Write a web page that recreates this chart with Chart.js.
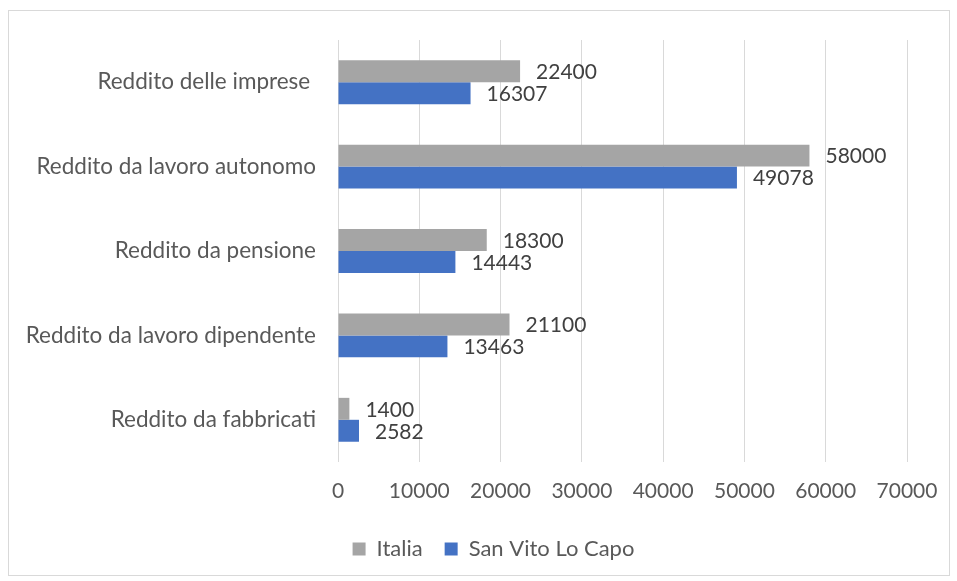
<!DOCTYPE html>
<html>
<head>
<meta charset="utf-8">
<script src="https://cdn.jsdelivr.net/npm/chart.js@4"></script>
<style>
    html, body { margin: 0; padding: 0; background: #ffffff; }
    #wrap { position: relative; width: 957px; height: 581px; }
</style>
</head>
<body>
<div id="wrap"><canvas id="redditoChart" width="957" height="581"></canvas></div>
<script>
const categories = [
    'Reddito delle imprese ',
    'Reddito da lavoro autonomo',
    'Reddito da pensione',
    'Reddito da lavoro dipendente',
    'Reddito da fabbricati'
];
const italia = [22400, 58000, 18300, 21100, 1400];
const sanVito = [16307, 49078, 14443, 13463, 2582];
const xTicks = [0, 10000, 20000, 30000, 40000, 50000, 60000, 70000];

const fontFamily = "Lato, 'Noto Sans', sans-serif";

// value labels drawn just past the end of each bar
const valueLabels = {
    id: 'valueLabels',
    afterDatasetsDraw(chart) {
        const ctx = chart.ctx;
        ctx.save();
        ctx.font = '21px ' + fontFamily;
        ctx.fillStyle = '#404040';
        ctx.textAlign = 'left';
        ctx.textBaseline = 'middle';
        chart.data.datasets.forEach((ds, i) => {
            chart.getDatasetMeta(i).data.forEach((bar, j) => {
                ctx.fillText(String(ds.data[j]), bar.x + 16, bar.y + 1);
            });
        });
        ctx.restore();
    }
};

// thin frame around the whole chart
const frame = {
    id: 'frame',
    beforeDraw(chart) {
        const ctx = chart.ctx;
        ctx.save();
        ctx.strokeStyle = '#d9d9d9';
        ctx.lineWidth = 1;
        ctx.strokeRect(8.5, 10.5, 941, 565);
        ctx.restore();
    }
};

// centre the legend under the framed area instead of the padded canvas
const legendShift = {
    id: 'legendShift',
    afterLayout(chart) {
        if (chart.legend) {
            chart.legend.left += 40;
            chart.legend.right += 40;
            chart.legend.top -= 2;
            chart.legend.bottom -= 2;
        }
    }
};

new Chart(document.getElementById('redditoChart'), {
    type: 'bar',
    data: {
        labels: categories,
        datasets: [
            {
                label: 'Italia',
                data: italia,
                backgroundColor: '#a5a5a5',
                categoryPercentage: 0.52,
                barPercentage: 1.0
            },
            {
                label: 'San Vito Lo Capo',
                data: sanVito,
                backgroundColor: '#4472c4',
                categoryPercentage: 0.52,
                barPercentage: 1.0
            }
        ]
    },
    options: {
        indexAxis: 'y',
        responsive: false,
        animation: false,
        layout: {
            padding: { left: 0, top: 40, right: 50, bottom: 9 }
        },
        scales: {
            x: {
                min: 0,
                max: 70000,
                afterBuildTicks: (scale) => {
                    scale.ticks = xTicks.map(v => ({ value: v }));
                },
                afterFit: (scale) => {
                    scale.height = 56;
                },
                grid: {
                    color: '#d9d9d9',
                    lineWidth: 1,
                    drawTicks: false
                },
                border: { display: false },
                ticks: {
                    padding: 17,
                    maxRotation: 0,
                    color: '#595959',
                    font: { size: 21, family: fontFamily },
                    callback: (value) => String(value)
                }
            },
            y: {
                afterFit: (scale) => {
                    scale.width = 338;
                },
                grid: { display: false, drawTicks: false },
                border: { display: false },
                ticks: {
                    padding: 22,
                    color: '#595959',
                    font: { size: 22.5, family: fontFamily }
                }
            }
        },
        plugins: {
            legend: {
                display: true,
                position: 'bottom',
                labels: {
                    boxWidth: 13,
                    boxHeight: 13,
                    padding: 22,
                    color: '#595959',
                    font: { size: 22, family: fontFamily }
                }
            },
            tooltip: { enabled: false }
        }
    },
    plugins: [frame, legendShift, valueLabels]
});
</script>
</body>
</html>
